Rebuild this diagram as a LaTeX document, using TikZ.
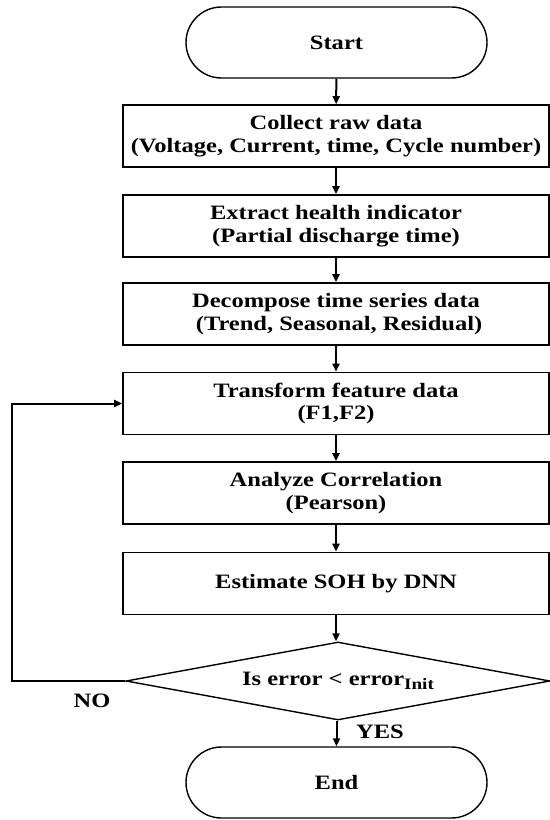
\documentclass[tikz,border=0pt]{standalone}
\usepackage{fontspec}
\setmainfont[FakeStretch=1.2]{Liberation Serif}
\usetikzlibrary{shapes.geometric,arrows.meta}
\tikzset{
  every node/.style={font=\fontsize{20.5}{22.5}\selectfont\bfseries, align=center},
  procbox/.style={draw, line width=1.6bp, rectangle, minimum width=426bp, minimum height=62bp, inner sep=0pt},
  termbox/.style={draw, line width=1.4bp, rectangle, rounded corners=35.5bp, minimum width=301bp, minimum height=71bp, inner sep=0pt},
  decbox/.style={draw, line width=1.4bp, diamond, aspect=5.4, minimum width=424bp, minimum height=78bp, inner sep=0pt},
  flow/.style={line width=2bp, -{Triangle[length=8bp,width=7bp]}},
  lbl/.style={inner sep=0pt}
}
\begin{document}
\begin{tikzpicture}[x=1bp,y=-1bp]
\useasboundingbox (0,0) rectangle (550,820);
\node[termbox] (start) at (336.5,42.5) {Start};
\node[procbox] (b1) at (336,136) {Collect raw data\\(Voltage, Current, time, Cycle number)};
\node[procbox] (b2) at (336,226) {Extract health indicator\\(Partial discharge time)};
\node[procbox] (b3) at (336,314) {Decompose time series data\\\ (Trend, Seasonal, Residual)};
\node[procbox] (b4) at (336,403.5) {Transform feature data\\(F1,F2)};
\node[procbox] (b5) at (336,493) {Analyze Correlation\\(Pearson)};
\node[procbox] (b6) at (336,583.5) {Estimate SOH by DNN};
\node[decbox] (dec) at (338,681) {Is error < error\raisebox{-0.35ex}{\fontsize{16}{16}\selectfont Init}};
\node[termbox] (end) at (336.5,782.5) {End};
\node[lbl] (no) at (92,701) {NO};
\node[lbl] (yes) at (380,732) {YES};
\coordinate (lp) at (12,681);
\draw[flow] (start) -- (b1);
\draw[flow] (b1) -- (b2);
\draw[flow] (b2) -- (b3);
\draw[flow] (b3) -- (b4);
\draw[flow] (b4) -- (b5);
\draw[flow] (b5) -- (b6);
\draw[flow] (b6.south) -- (b6.south |- dec.north);
\draw[flow] (dec.south -| end.north) -- (end.north);
\draw[flow] (dec.west) -- (lp) |- (b4.west);
\end{tikzpicture}
\end{document}
